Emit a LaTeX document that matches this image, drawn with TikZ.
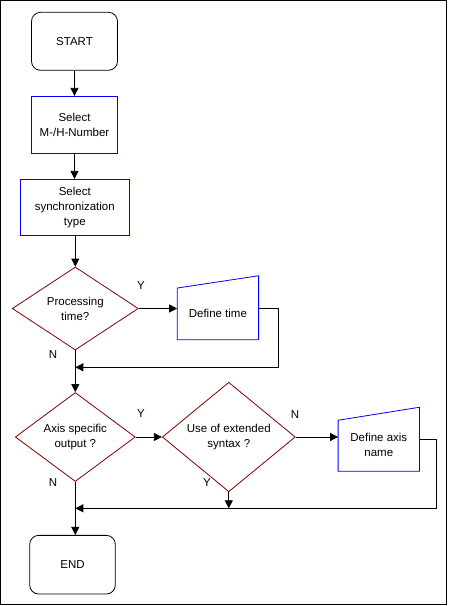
\documentclass[tikz,border=0pt]{standalone}
\usepackage{fontspec}
\setmainfont{Liberation Sans}
\usetikzlibrary{shapes.geometric,arrows.meta,calc}
\definecolor{boxblue}{RGB}{0,0,255}
\definecolor{dred}{RGB}{128,0,0}
\begin{document}
\begin{tikzpicture}[x=1pt,y=-1pt,
  every node/.style={font=\fontsize{11.5}{15}\selectfont, align=center, inner sep=0pt},
  term/.style={draw=black, line width=0.8pt, rounded corners=9pt, minimum width=86pt, minimum height=58pt},
  procbox/.style={draw=boxblue, line width=0.8pt},
  decis/.style={diamond, draw=dred, line width=0.8pt},
  inbox/.style={minimum width=81pt, minimum height=63.5pt},
  inshape/.style={draw=boxblue, line width=0.8pt},
  flow/.style={line width=0.8pt, -{Triangle[length=8pt,width=8pt]}},
  lbl/.style={font=\fontsize{11.5}{13}\selectfont}
]
\useasboundingbox (0,0) rectangle (448,606);
\draw[line width=1pt] (0.5,0.5) rectangle (446.5,604.5);

\node[term] (start) at (74.5,41.3) {START};
\node[procbox, minimum width=86pt, minimum height=57pt] (b1) at (74.5,124.8) {Select\\M-/H-Number};
\node[procbox, minimum width=109pt, minimum height=56pt] (b2) at (74.8,207.3) {Select\\synchronization\\type};
\node[decis, minimum width=126pt, minimum height=83pt] (d1) at (75.3,308.5) {Processing\\time?};
\node[inbox] (dt) at (217.9,307.7) {};
\draw[inshape] (dt.south west) -- (dt.south east) -- (dt.north east) -- ($(dt.north west)+(0,12.3)$) -- cycle;
\node at ($(dt.center)+(0,6)$) {Define time};

\node[decis, minimum width=120pt, minimum height=79pt] (d2) at (75.3,437) {Axis specific\\output ?};
\node[decis, minimum width=133pt, minimum height=88pt] (d3) at (228.8,437) {Use of extended\\syntax ?};
\node[inbox] (da) at (378.8,439.2) {};
\draw[inshape] (da.south west) -- (da.south east) -- (da.north east) -- ($(da.north west)+(0,13)$) -- cycle;
\node at ($(da.center)+(0,6)$) {Define axis\\name};

\node[term, minimum width=85.6pt, minimum height=58.7pt] (end) at (72.5,564.7) {END};

\coordinate (j1) at (75.3,367.3);
\coordinate (j2) at (75.3,508.3);
\coordinate (r1) at (278.3,308.7);
\coordinate (r2) at (436.7,439.3);

\draw[flow] (start) -- (b1);
\draw[flow] (b1.south -| b1.center) -- (b2.north -| b1.center);
\draw[flow] (b2.south -| d1.north) -- (d1.north);
\draw[flow] (d1.east) -- (d1.east -| dt.west);
\draw[flow] (dt.east |- r1) -- (r1) |- (j1);
\draw[flow] (d1.south) -- (d2.north);
\draw[flow] (d2.east) -- (d3.west);
\draw[flow] (d3.east) -- (d3.east -| da.west);
\draw[flow] (da.east |- r2) -- (r2) |- (j2);
\draw[flow] (d3.south) -- (d3.south |- j2);
\draw[flow] (d2.south) -- (d2.south |- end.north);

\node[lbl] (ly1) at (141,286) {Y};
\node[lbl] (ln1) at (53,355) {N};
\node[lbl] (ly2) at (141,414) {Y};
\node[lbl] (ln3) at (295,415) {N};
\node[lbl] (ly3) at (207,483) {Y};
\node[lbl] (ln2) at (53,483) {N};
\end{tikzpicture}
\end{document}
